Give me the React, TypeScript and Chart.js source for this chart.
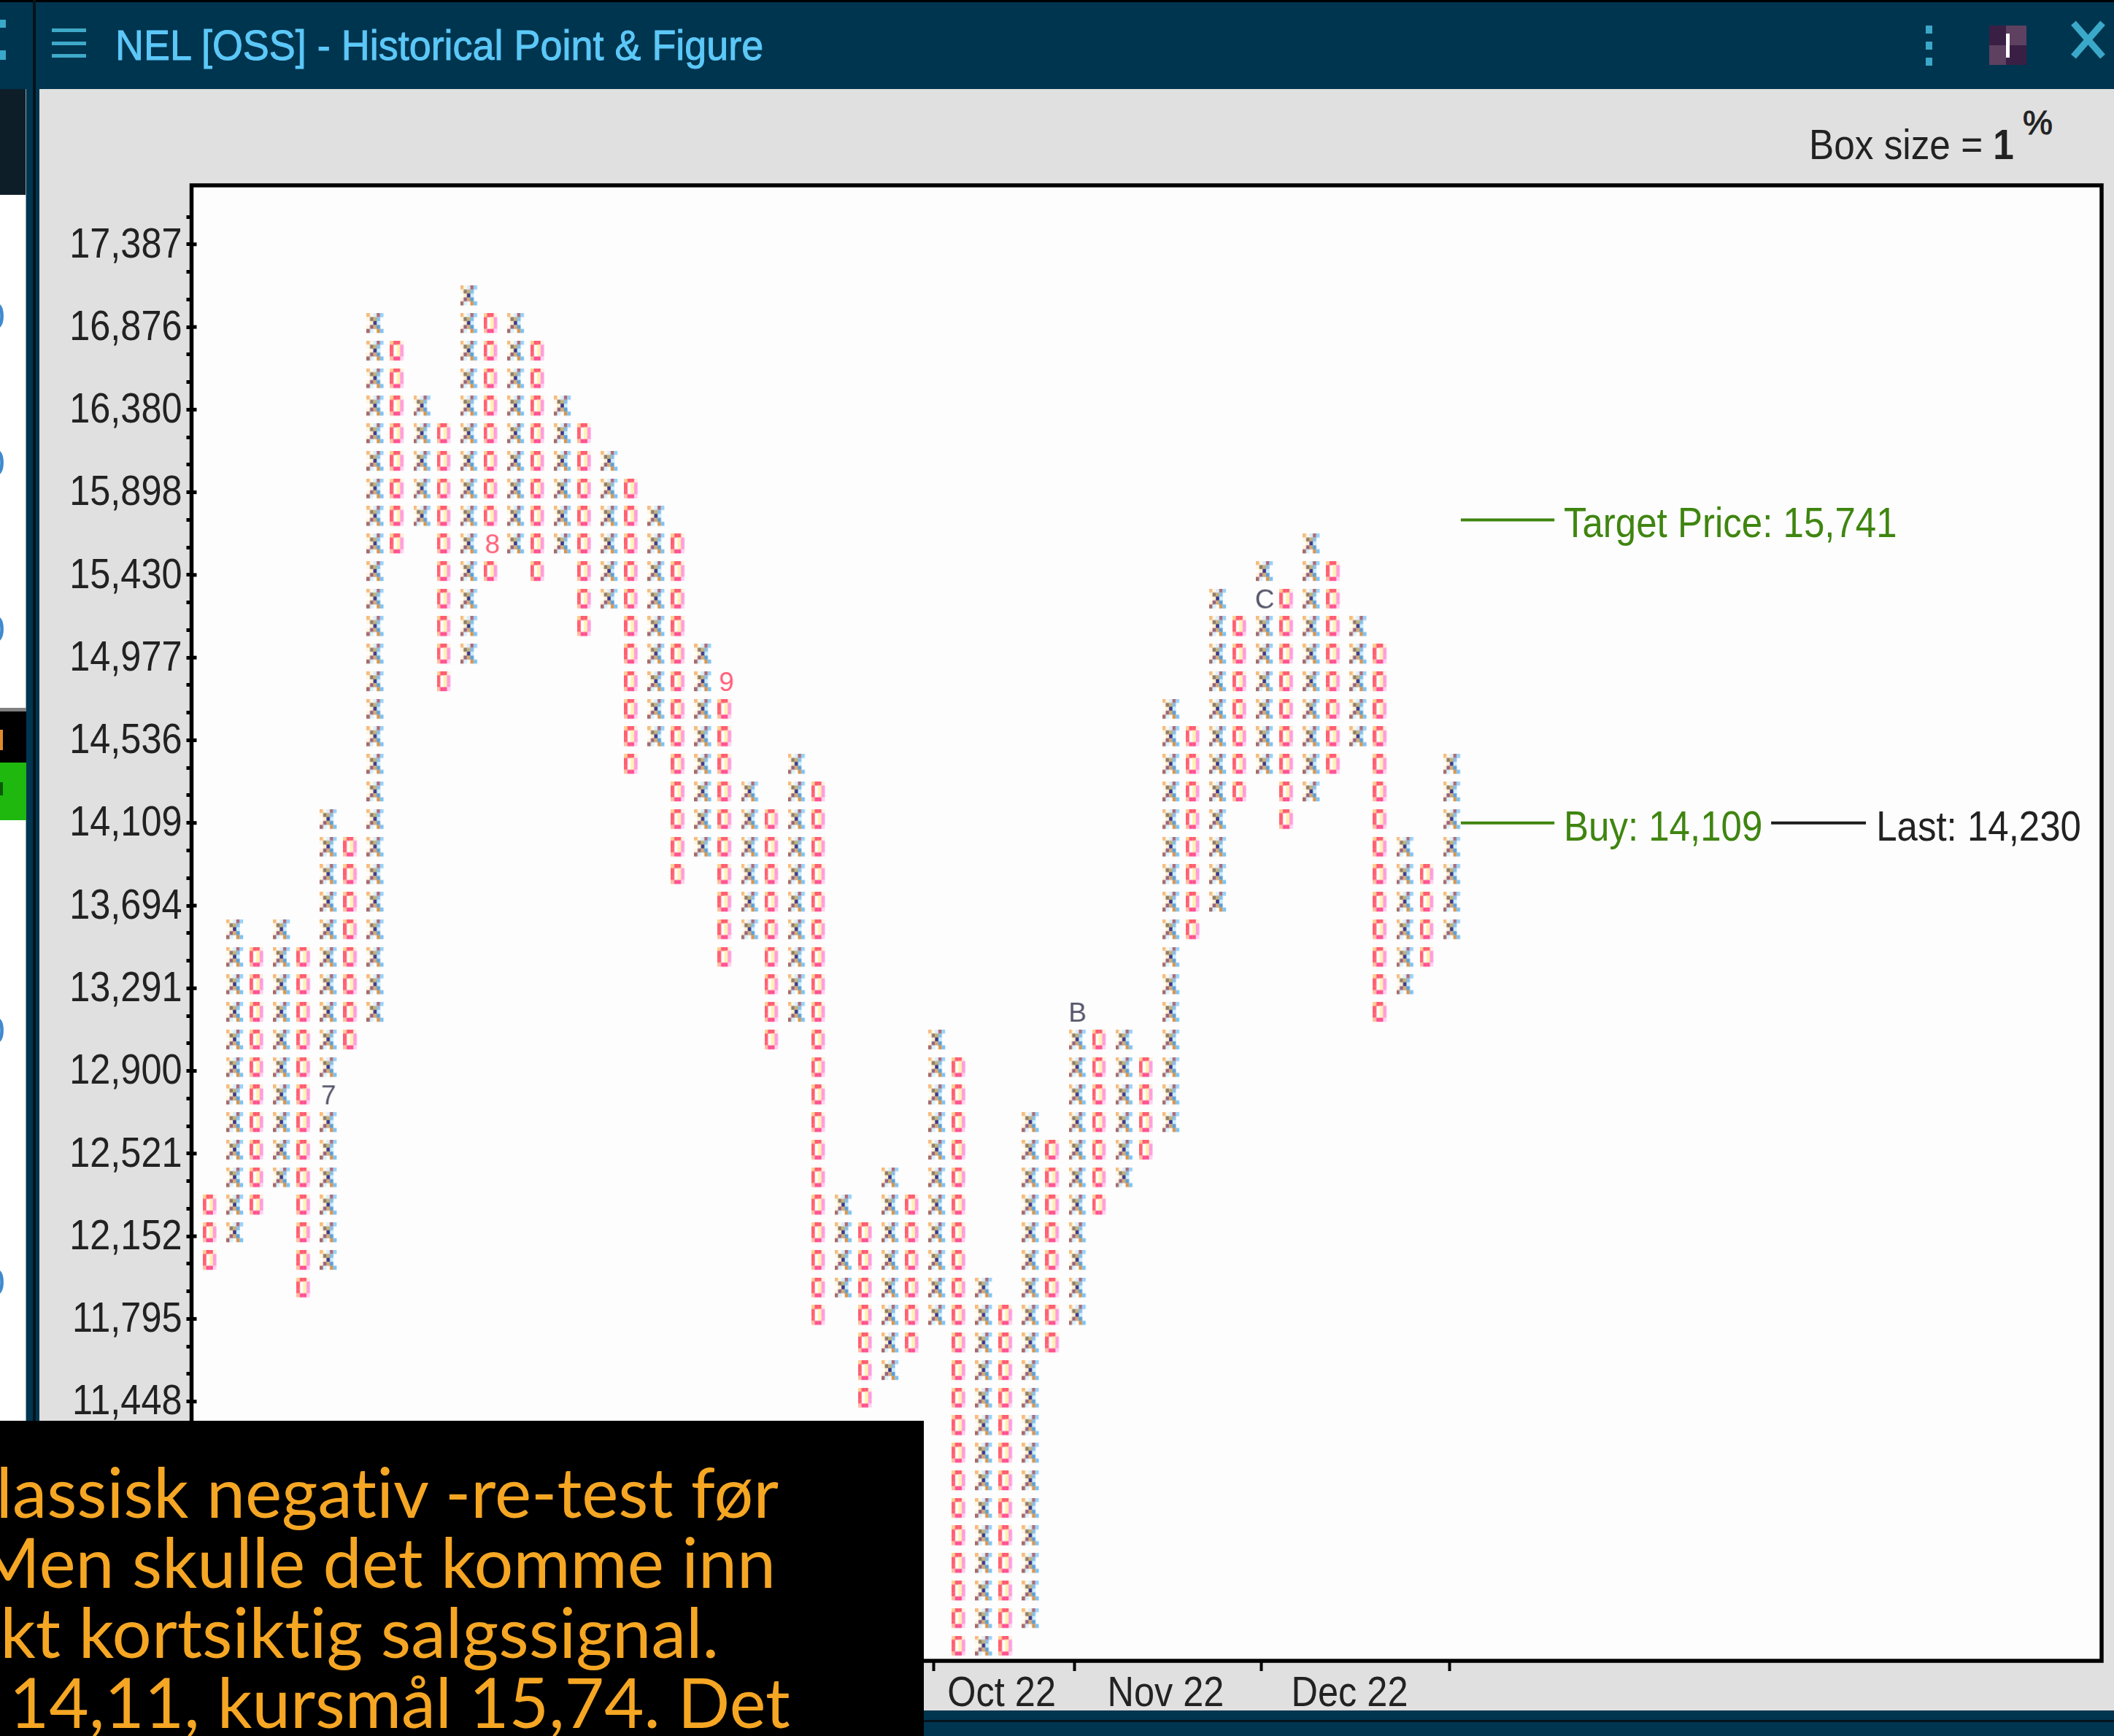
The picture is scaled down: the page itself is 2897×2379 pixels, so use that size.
import React, { useEffect, useRef } from "react";
import { Chart, registerables } from "chart.js";

Chart.register(...registerables);

// ---- data (row = number of 1% boxes above 11,448) ----
const colTops = [7,17,16,17,16,21,20,39,38,36,35,40,39,39,38,36,35,34,33,32,31,27,26,22,21,23,22,7,6,8,7,13,12,4,3,10,9,14,13,13,12,25,24,29,28,30,29,31,30,28,27,20,19,23];
const colBottoms = [5,6,7,8,4,5,13,14,31,32,26,27,30,31,30,31,28,29,23,24,19,20,16,17,13,14,3,4,0,1,2,3,-9,-9,-9,-8,2,3,7,8,9,10,17,18,22,23,21,22,23,24,14,15,16,17];
const monthMarkCols = [5, 12, 22, 37, 45];
const monthMarkRows = [11, 31, 26, 14, 29];
const monthMarkText = ["7", "8", "9", "B", "C"];
const yLabelRows = [42,39,36,33,30,27,24,21,18,15,12,9,6,3,0];
const yLabels = ["17,387","16,876","16,380","15,898","15,430","14,977","14,536","14,109","13,694","13,291","12,900","12,521","12,152","11,795","11,448"];
const monthBoundaries = [30.87, 36.86, 44.87, 52.9];
const monthLabelCols = [33.76, 40.77, 48.63];
const monthLabels = ["Oct 22", "Nov 22", "Dec 22"];
const targetRow = 32;
const buyRow = 21;
const targetLineCols = [53.38, 57.38];
const buyLineCols = [53.38, 57.38];
const lastLineCols = [66.64, 70.69];
const targetText = "Target Price: 15,741";
const buyText = "Buy: 14,109";
const lastText = "Last: 14,230";
const labelCols = [57.78, 57.78, 71.13];

const NARROW = "'Liberation Sans',sans-serif";
const SQUEEZE = 0.885;
const GREEN = "#3f8510";
const INK = "#222222";

const xPix = [
  ["#f5bc80","#fff8e8","#d8eeff","#ae6c76","#98d2fa"],
  ["#fff6e2","#8f7c68","#c4b07c","#86bfe8","#ffffff"],
  ["#ffffff","#ffeec8","#3d3888","#c8eeff","#ffffff"],
  ["#fff4de","#94637f","#d4aa74","#5a9fd8","#ffffff"],
  ["#a56a6a","#d8f2ff","#ffffff","#d89650","#7cc2f4"],
];
const oPix = [
  ["#ffd090","#ff5a70","#ff5a70","#fff0e0","#ffffff"],
  ["#ff6070","#ffffff","#fff2b0","#ff9cdc","#ffffff"],
  ["#ff6070","#ffffff","#fff2b0","#ff9cdc","#ffffff"],
  ["#ff6070","#ffffff","#fff2b0","#ff9cdc","#ffffff"],
  ["#ffc0a0","#ff5090","#ff5090","#ffd0f0","#ffffff"],
];

function pixelSprite(pix: string[][]) {
  const c = document.createElement("canvas");
  c.width = 24;
  c.height = 38;
  const g = c.getContext("2d")!;
  const cw = 23 / 5, ch = 27 / 5;
  pix.forEach((row, r) =>
    row.forEach((col, k) => {
      if (col === "#ffffff") return;
      g.fillStyle = col;
      g.fillRect(k * cw, r * ch, cw + 0.2, ch + 0.2);
    })
  );
  return c;
}

function textSprite(t: string) {
  const c = document.createElement("canvas");
  c.width = 24;
  c.height = 38;
  const g = c.getContext("2d")!;
  g.fillStyle = t === "8" || t === "9" ? "#ff6078" : "#55556a";
  g.font = `37px ${NARROW}`;
  g.textAlign = "center";
  g.textBaseline = "alphabetic";
  g.fillText(t, 12, 27);
  return c;
}

function squeezedLabels(scale: any, dy: number) {
  scale.drawLabels = function (area: any) {
    const ctx = this.ctx;
    for (const item of this.getLabelItems(area)) {
      if (!item.label) continue;
      const o = item.options;
      ctx.save();
      ctx.translate(o.translation[0], o.translation[1] + dy);
      ctx.scale(SQUEEZE, 1);
      ctx.font = item.font.string;
      ctx.fillStyle = o.color;
      ctx.textAlign = o.textAlign;
      ctx.textBaseline = o.textBaseline;
      ctx.fillText(item.label, 0, item.textOffset);
      ctx.restore();
    }
  };
}

const framePlugin = {
  id: "frame",
  beforeDraw(chart: any) {
    squeezedLabels(chart.scales.x, -2);
    squeezedLabels(chart.scales.y, 2);
  },
  beforeDatasetsDraw(chart: any) {
    const { ctx, chartArea: a } = chart;
    ctx.save();
    ctx.fillStyle = "#fdfdfd";
    ctx.fillRect(a.left, a.top, a.right - a.left, a.bottom - a.top);
    ctx.restore();
  },
  afterDraw(chart: any) {
    const { ctx, chartArea: a, scales } = chart;
    ctx.save();
    ctx.strokeStyle = "#000";
    ctx.lineWidth = 5.5;
    ctx.strokeRect(a.left, a.top, a.right - a.left, a.bottom - a.top);
    ctx.fillStyle = "#000";
    yLabelRows.forEach((r) => {
      ctx.fillRect(a.left, scales.y.getPixelForValue(r) - 2.5, 7, 5);
    });
    ctx.font = `57px ${NARROW}`;
    ctx.textBaseline = "alphabetic";
    const put = (t: string, col: number, row: number, color: string) => {
      ctx.save();
      ctx.translate(scales.x.getPixelForValue(col), scales.y.getPixelForValue(row) + 24);
      ctx.scale(SQUEEZE + 0.01, 1);
      ctx.fillStyle = color;
      ctx.fillText(t, 0, 0);
      ctx.restore();
    };
    put(targetText, labelCols[0], targetRow, GREEN);
    put(buyText, labelCols[1], buyRow, GREEN);
    put(lastText, labelCols[2], buyRow, INK);
    ctx.restore();
  },
};

const abs = (left: number, top: number, width: number, height: number, background: string): React.CSSProperties => ({
  position: "absolute", left, top, width, height, background,
});

export default function App() {
  const ref = useRef<HTMLCanvasElement>(null);
  useEffect(() => {
    const xs: any[] = [];
    const os: any[] = [];
    colTops.forEach((top, col) => {
      for (let r = colBottoms[col]; r <= top; r++) {
        const isMark = monthMarkCols.some((c, i) => c === col && monthMarkRows[i] === r);
        if (!isMark) (col % 2 === 1 ? xs : os).push({ x: col, y: r });
      }
    });
    const marks = monthMarkCols.map((c, i) => ({ x: c, y: monthMarkRows[i] }));
    const markSprites = monthMarkText.map(textSprite);
    const rows: number[] = [];
    for (let r = -9; r <= 43; r++) rows.push(r);
    const line = (cols: number[], row: number, color: string) => ({
      type: "scatter", showLine: true, pointRadius: 0, borderColor: color, borderWidth: 4,
      data: cols.map((x) => ({ x, y: row })),
    });
    const font = { family: NARROW, size: 57 };
    const chart = new Chart(ref.current!, {
      type: "scatter",
      data: {
        datasets: [
          { data: xs, pointStyle: pixelSprite(xPix), pointRadius: 10 },
          { data: os, pointStyle: pixelSprite(oPix), pointRadius: 10 },
          { data: marks, pointStyle: (c: any) => markSprites[c.dataIndex], pointRadius: 10 },
          line(targetLineCols, targetRow, GREEN),
          line(buyLineCols, buyRow, GREEN),
          line(lastLineCols, buyRow, "#1c1c1c"),
        ] as any,
      },
      options: {
        animation: false,
        responsive: false,
        layout: { padding: { left: 0, top: 254, right: 17, bottom: 0 } },
        plugins: { legend: { display: false }, tooltip: { enabled: false } },
        scales: {
          x: {
            type: "linear",
            min: -0.854,
            max: 80.76,
            afterFit: (s: any) => { s.height = 103; },
            afterBuildTicks: (s: any) => {
              s.ticks = [...monthBoundaries, ...monthLabelCols].sort((a, b) => a - b).map((value) => ({ value }));
            },
            border: { display: false },
            grid: {
              drawOnChartArea: false,
              tickLength: 14,
              tickWidth: 4,
              tickColor: (c: any) => (monthBoundaries.includes(c.tick?.value) ? "#000" : "transparent"),
            },
            ticks: {
              autoSkip: false,
              maxRotation: 0,
              padding: 0,
              color: INK,
              font,
              callback: (v: any) => {
                const i = monthLabelCols.indexOf(v);
                return i >= 0 ? monthLabels[i] : "";
              },
            },
          },
          y: {
            type: "linear",
            min: -9.41,
            max: 44.14,
            afterFit: (s: any) => { s.width = 262.5; },
            afterBuildTicks: (s: any) => { s.ticks = rows.map((value) => ({ value })); },
            border: { display: false },
            grid: { drawOnChartArea: false, tickLength: 7, tickWidth: 5, tickColor: "#000" },
            ticks: {
              autoSkip: false,
              padding: 6,
              color: INK,
              font,
              callback: (v: any) => {
                const i = yLabelRows.indexOf(v);
                return i >= 0 ? yLabels[i] : "";
              },
            },
          },
        },
      },
      plugins: [framePlugin],
    } as any);
    return () => chart.destroy();
  }, []);

  const fragments = [413, 614, 842, 1392, 1737];
  const overlayLines: [string, number, number, number][] = [
    ["Klassisk negativ -re-test før", 1067, 2071, 1],
    ["Men skulle det komme inn", 1063, 2167, 1],
    ["kt kortsiktig salgssignal.", 985, 2263, 1.008],
    ["14,11, kursmål 15,74. Det", 1083, 2359, 0.99],
  ];

  return (
    <div style={{ position: "absolute", left: 0, top: 0, width: 2897, height: 2379, overflow: "hidden", background: "#e0e0e0" }}>
      {/* side panel */}
      <div style={abs(0, 0, 54, 2379, "#00354f")} />
      <div style={abs(0, 122, 36, 145, "#0d1e29")} />
      <div style={abs(0, 267, 35, 2112, "#ffffff")} />
      <div style={abs(35, 122, 1, 2257, "#8fa6b2")} />
      <div style={abs(45, 0, 4, 2379, "#04141c")} />
      <div style={abs(0, 970, 36, 75, "#000000")} />
      <div style={abs(0, 970, 36, 5, "#808080")} />
      <div style={abs(0, 1045, 36, 79, "#1eb80f")} />
      <div style={abs(0, 1000, 4, 28, "#e08a2a")} />
      <div style={abs(0, 1072, 4, 18, "#0a5a0a")} />
      {fragments.map((y) => (
        <div key={y} style={{ position: "absolute", left: -22, top: y, fontFamily: NARROW, fontSize: 52, lineHeight: "40px", color: "#3f8ad0", width: 30 }}>0</div>
      ))}
      {/* title bar */}
      <div style={abs(0, 0, 2897, 122, "#00354f")} />
      <div style={abs(0, 0, 2897, 3, "#000000")} />
      <div style={abs(0, 27, 8, 11, "#3aa8c9")} />
      <div style={abs(0, 69, 8, 13, "#3aa8c9")} />
      <div style={abs(45, 0, 4, 122, "#04141c")} />
      {[41, 59, 76].map((y) => <div key={y} style={abs(71, y - 2, 47, 5, "#3fa9c9")} />)}
      <div style={{ position: "absolute", left: 158, top: 28, fontFamily: NARROW, fontSize: 58, lineHeight: "68px", color: "#5cc8f8", whiteSpace: "nowrap", transform: "scaleX(0.93)", transformOrigin: "left center", WebkitTextStroke: "1px #5cc8f8" }}>
        NEL [OSS] - Historical Point &amp; Figure
      </div>
      {[35, 57, 79].map((y) => <div key={y} style={abs(2639, y, 9, 11, "#3aa8c9")} />)}
      <div style={abs(2726, 35, 23, 27, "#3a1f45")} />
      <div style={abs(2749, 35, 28, 27, "#5e4060")} />
      <div style={abs(2726, 62, 23, 27, "#5e4060")} />
      <div style={abs(2749, 62, 28, 27, "#3a1f45")} />
      <div style={abs(2749, 46, 5, 33, "#ffffff")} />
      <div style={{ position: "absolute", left: 2836, top: 25, width: 51, height: 59 }}>
        <div style={{ position: "absolute", left: -5, top: 25, width: 61, height: 9, background: "#3aa8c9", transform: "rotate(49deg)" }} />
        <div style={{ position: "absolute", left: -5, top: 25, width: 61, height: 9, background: "#3aa8c9", transform: "rotate(-49deg)" }} />
      </div>
      {/* box size */}
      <div style={{ position: "absolute", left: 2479, top: 164, fontFamily: NARROW, fontSize: 57, lineHeight: "68px", color: INK, whiteSpace: "nowrap", transform: "scaleX(0.9)", transformOrigin: "left center" }}>
        Box size = <b>1</b>
      </div>
      <div style={{ position: "absolute", left: 2772, top: 140, fontFamily: NARROW, fontSize: 46, lineHeight: "56px", color: INK, WebkitTextStroke: "1px #222222" }}>%</div>
      {/* bottom bar */}
      <div style={abs(54, 2344, 2843, 35, "#00354f")} />
      <div style={abs(54, 2357, 2843, 3, "#04141c")} />
      {/* chart */}
      <canvas ref={ref} width={2897} height={2379} style={{ position: "absolute", left: 0, top: 0, display: "block" }} />
      {/* overlay caption */}
      <div style={abs(0, 1947, 1266, 432, "#000000")}>
        {overlayLines.map(([t, right, base, sx]) => (
          <div key={t} style={{ position: "absolute", right: 1266 - right, top: base - 1947 - 78, fontFamily: "Lato,sans-serif", fontSize: 95, lineHeight: "100px", color: "#f5a623", whiteSpace: "nowrap", fontVariantLigatures: "none", transform: `scaleX(${sx})`, transformOrigin: "right center" }}>{t}</div>
        ))}
      </div>
    </div>
  );
}
